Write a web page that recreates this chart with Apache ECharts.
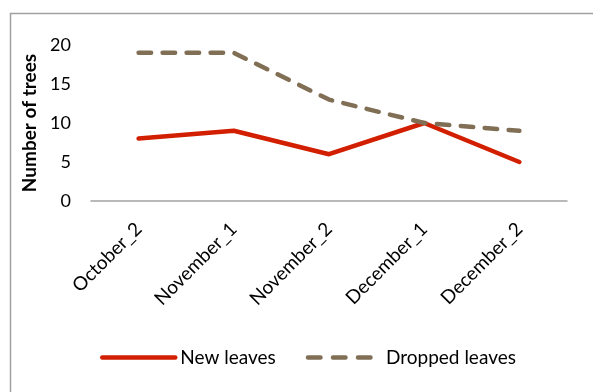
<!DOCTYPE html>
<html><head><meta charset="utf-8">
<script src="https://cdn.jsdelivr.net/npm/echarts@6/dist/echarts.min.js"></script>
<style>html,body{margin:0;padding:0;background:#fff}#c{width:593px;height:392px}</style>
</head><body><div id="c"></div>
<script>
const categories = ['October_2', 'November_1', 'November_2', 'December_1', 'December_2'];
const newLeaves = [8, 9, 6, 10, 5];
const droppedLeaves = [19, 19, 13, 10, 9];
const yTicks = [0, 5, 10, 15, 20];
const FONT = 'Lato';
const DASH = [12.5, 11.5];
const LEGEND_DASH = [12.5, 12.5];

const chart = echarts.init(document.getElementById('c'), null, {renderer: 'canvas'});
chart.setOption({
  animation: false,
  backgroundColor: '#fff',
  graphic: [{
    type: 'rect', shape: {x: 10.5, y: 13.5, width: 700, height: 500},
    style: {fill: 'none', stroke: '#a0a0a0', lineWidth: 1.5}, silent: true, z: -1
  }],
  grid: {left: 91, right: 26, top: 45, bottom: 191, containLabel: false},
  legend: {
    top: 343, left: 95, itemWidth: 73, itemHeight: 14, itemGap: 30,
    itemStyle: {opacity: 0},
    lineStyle: {width: 4.5, cap: 'round'},
    textStyle: {fontFamily: FONT, fontSize: 19, color: '#000', padding: [0, 0, 0, 0]},
    data: [
      {name: 'New leaves'},
      {name: 'Dropped leaves', lineStyle: {width: 4.5, cap: 'round', type: LEGEND_DASH}}
    ]
  },
  xAxis: {
    type: 'category', data: categories, boundaryGap: true,
    axisLine: {lineStyle: {color: '#a3a3a3', width: 1.5}},
    axisTick: {show: false},
    axisLabel: {rotate: 45, fontFamily: FONT, fontSize: 19, color: '#000', margin: 25, interval: 0}
  },
  yAxis: {
    type: 'value', min: 0, max: 20, interval: 5,
    name: 'Number of trees', nameLocation: 'middle', nameGap: 50,
    nameTextStyle: {fontFamily: FONT, fontSize: 19, fontWeight: 'bold', color: '#000'},
    axisLine: {show: false}, axisTick: {show: false}, splitLine: {show: false},
    axisLabel: {fontFamily: FONT, fontSize: 18, color: '#000', margin: 20,
      formatter: v => yTicks.includes(v) ? String(v) : ''}
  },
  series: [
    {name: 'New leaves', type: 'line', data: newLeaves, symbol: 'none',
      itemStyle: {color: '#d21f00'},
      lineStyle: {color: '#d21f00', width: 4.5, cap: 'round', join: 'round'}},
    {name: 'Dropped leaves', type: 'line', data: droppedLeaves, symbol: 'none',
      itemStyle: {color: '#806e55'},
      lineStyle: {color: '#806e55', width: 4.5, type: DASH, cap: 'round', join: 'round'}}
  ]
});
</script></body></html>
